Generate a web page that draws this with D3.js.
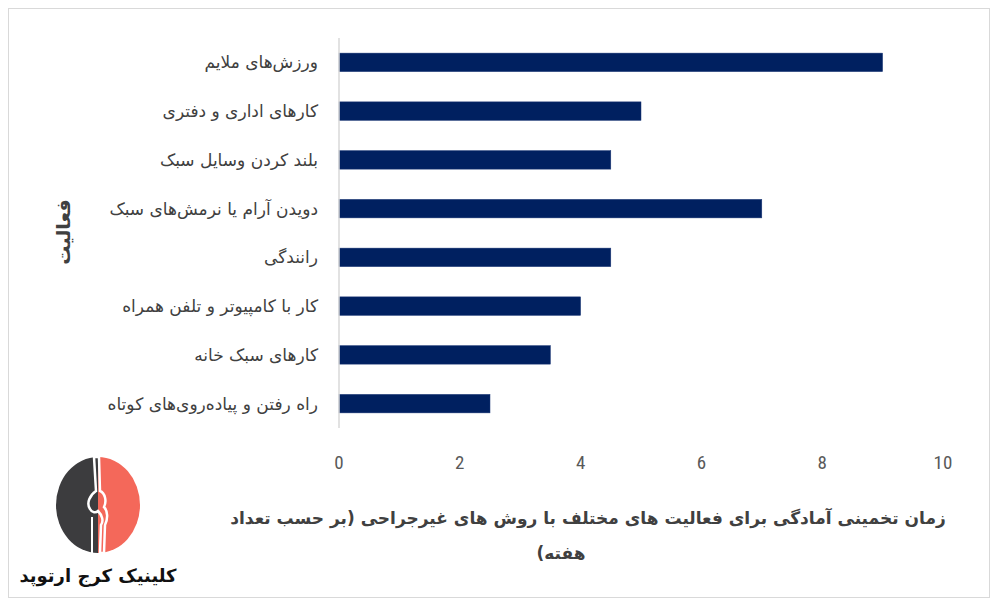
<!DOCTYPE html>
<html>
<head>
<meta charset="utf-8">
<script src="https://cdn.jsdelivr.net/npm/d3@7"></script>
<style>
  body { margin: 0; background: #fff; }
  svg { display: block; }
</style>
</head>
<body>
<div id="chart"></div>
<script>
var categories = [
  "ورزش‌های ملایم",
  "کارهای اداری و دفتری",
  "بلند کردن وسایل سبک",
  "دویدن آرام یا نرمش‌های سبک",
  "رانندگی",
  "کار با کامپیوتر و تلفن همراه",
  "کارهای سبک خانه",
  "راه رفتن و پیاده‌روی‌های کوتاه"
];
var weeks = [9, 5, 4.5, 7, 4.5, 4, 3.5, 2.5];
var xTicks = [0, 2, 4, 6, 8, 10];
var xTitle1 = "زمان تخمینی آمادگی برای فعالیت های مختلف با روش های غیرجراحی (بر حسب تعداد";
var xTitle2 = "هفته)";
var yTitle = "فعالیت";
var brand = "کلینیک کرج ارتوپد";

var W = 1000, H = 605;
var plot = { left: 339, right: 943, top: 38, bottom: 428 };
var faFont = "'DejaVu Sans', sans-serif";
var numFont = "'Liberation Sans Narrow', 'Roboto Condensed', 'Liberation Sans', sans-serif";

var svg = d3.select("#chart").append("svg")
  .attr("width", W)
  .attr("height", H);

// outer frame
svg.append("rect")
  .attr("x", 8.5).attr("y", 8.5)
  .attr("width", 981).attr("height", 589)
  .attr("fill", "#fff")
  .attr("stroke", "#d9d9d9");

var x = d3.scaleLinear()
  .domain([0, 10])
  .range([plot.left, plot.right]);

var y = d3.scaleBand()
  .domain(categories)
  .range([plot.top, plot.bottom])
  .paddingInner(0.62)
  .paddingOuter(0.31);

// bars
svg.selectAll(".bar")
  .data(categories)
  .join("rect")
  .attr("class", "bar")
  .attr("x", x(0))
  .attr("y", d => y(d))
  .attr("width", (d, i) => x(weeks[i]) - x(0))
  .attr("height", y.bandwidth())
  .attr("fill", "#002060")
  .attr("stroke", "#1f3a78")
  .attr("stroke-width", 0.5);

// category axis line
svg.append("line")
  .attr("x1", x(0)).attr("x2", x(0))
  .attr("y1", plot.top).attr("y2", plot.bottom)
  .attr("stroke", "#d9d9d9")
  .attr("stroke-width", 1.5);

// category labels
svg.selectAll(".cat-label")
  .data(categories)
  .join("text")
  .attr("class", "cat-label")
  .attr("x", 318)
  .attr("y", d => y(d) + y.bandwidth() / 2)
  .attr("dy", "0.35em")
  .attr("text-anchor", "start")
  .attr("direction", "rtl")
  .style("font-family", faFont)
  .style("font-size", "17px")
  .style("fill", "#404040")
  .text(d => d);

// value ticks
svg.selectAll(".tick-label")
  .data(xTicks)
  .join("text")
  .attr("class", "tick-label")
  .attr("x", d => x(d))
  .attr("y", 469)
  .attr("text-anchor", "middle")
  .style("font-family", numFont)
  .style("font-size", "19px")
  .style("fill", "#595959")
  .text(d => d);

// axis titles
svg.append("text")
  .attr("x", 588).attr("y", 524)
  .attr("text-anchor", "middle")
  .attr("direction", "rtl")
  .style("font-family", faFont)
  .style("font-size", "17px")
  .style("font-weight", "bold")
  .style("fill", "#404040")
  .text(xTitle1);

svg.append("text")
  .attr("x", 561).attr("y", 559)
  .attr("text-anchor", "middle")
  .attr("direction", "rtl")
  .style("font-family", faFont)
  .style("font-size", "17px")
  .style("font-weight", "bold")
  .style("fill", "#404040")
  .text(xTitle2);

svg.append("text")
  .attr("transform", "translate(70,232) rotate(-90)")
  .attr("text-anchor", "middle")
  .attr("direction", "rtl")
  .style("font-family", faFont)
  .style("font-size", "19px")
  .style("font-weight", "bold")
  .style("fill", "#404040")
  .text(yTitle);

// logo
var logo = svg.append("g").attr("transform", "translate(98,505)");
var rx = 42, ry = 48;
logo.append("path")
  .attr("d", "M0," + (-ry) + " A" + rx + "," + ry + " 0 0 0 0," + ry + " Z")
  .attr("fill", "#3c3c3e");
logo.append("path")
  .attr("d", "M0," + (-ry) + " A" + rx + "," + ry + " 0 0 1 0," + ry + " Z")
  .attr("fill", "#f4685a");
// bone silhouette
logo.append("path")
  .attr("d", "M-4,-48 L-2,-14 C-8,-10 -12,-2 -8,4 C-6,8 -2,8 0,6 C4,10 6,16 3,20 L2,48 L6,48 L7,20 C10,14 10,6 6,2 C9,-4 7,-12 2,-14 L1,-48 Z")
  .attr("fill", "none")
  .attr("stroke", "#fff")
  .attr("stroke-width", 2.5);
logo.append("line")
  .attr("x1", -6).attr("x2", -6)
  .attr("y1", 12).attr("y2", 48)
  .attr("stroke", "#fff")
  .attr("stroke-width", 2);

svg.append("text")
  .attr("x", 98).attr("y", 582)
  .attr("text-anchor", "middle")
  .attr("direction", "rtl")
  .style("font-family", faFont)
  .style("font-size", "18px")
  .style("font-weight", "bold")
  .style("fill", "#111")
  .text(brand);
</script>
</body>
</html>
